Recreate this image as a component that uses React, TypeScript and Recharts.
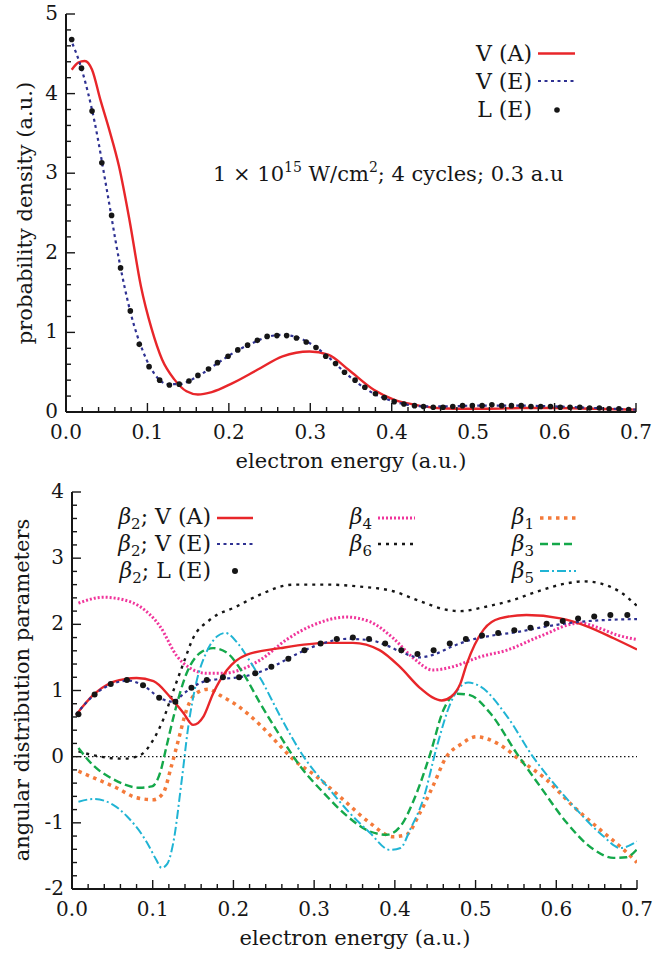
import React from "react";
import { LineChart, Line, XAxis, YAxis, ReferenceLine } from "recharts";

// ---------- Top panel: probability density ----------
const topVAx = [0.007,0.015,0.023,0.032,0.042,0.053,0.065,0.078,0.092,0.105,0.118,0.133,0.148,0.162,0.179,0.204,0.235,0.266,0.299,0.322,0.347,0.378,0.404,0.429,0.455,0.48,0.52,0.56,0.6,0.65,0.7];
const topVAy = [4.30,4.39,4.41,4.30,3.93,3.55,3.09,2.41,1.58,1.05,0.66,0.41,0.26,0.22,0.25,0.36,0.53,0.70,0.76,0.72,0.53,0.28,0.15,0.09,0.05,0.04,0.04,0.05,0.05,0.04,0.03];

const topVEx = [0.005,0.02,0.035,0.05,0.065,0.08,0.095,0.11,0.125,0.14,0.155,0.17,0.19,0.21,0.23,0.25,0.265,0.28,0.30,0.32,0.34,0.36,0.38,0.40,0.42,0.44,0.47,0.50,0.55,0.60,0.65,0.70];
const topVEy = [4.70,4.28,3.65,2.80,1.92,1.22,0.75,0.46,0.35,0.35,0.41,0.50,0.64,0.77,0.87,0.95,0.97,0.95,0.86,0.71,0.52,0.35,0.22,0.14,0.09,0.07,0.07,0.08,0.08,0.07,0.05,0.03];

const topLEx = [0.007,0.019,0.032,0.044,0.056,0.067,0.079,0.090,0.102,0.115,0.127,0.139,0.151,0.162,0.175,0.186,0.199,0.211,0.223,0.235,0.247,0.259,0.271,0.283,0.295,0.307,0.319,0.331,0.342,0.355,0.367,0.380,0.391,0.403,0.415,0.428,0.439,0.451,0.463,0.475,0.487,0.499,0.511,0.523,0.535,0.547,0.559,0.571,0.583,0.595,0.607,0.619,0.631,0.643,0.655,0.667,0.679,0.691];
const topLEy = [4.68,4.32,3.78,3.13,2.47,1.81,1.27,0.85,0.57,0.40,0.34,0.35,0.39,0.46,0.54,0.62,0.70,0.78,0.84,0.90,0.95,0.96,0.96,0.93,0.88,0.81,0.70,0.61,0.50,0.40,0.31,0.23,0.18,0.13,0.10,0.08,0.07,0.06,0.06,0.07,0.08,0.08,0.08,0.09,0.08,0.08,0.08,0.07,0.07,0.07,0.06,0.06,0.06,0.05,0.05,0.04,0.04,0.03];

// ---------- Bottom panel: angular distribution parameters ----------
const b2VAx = [0.005,0.027,0.047,0.065,0.080,0.101,0.121,0.138,0.150,0.163,0.175,0.192,0.216,0.258,0.316,0.348,0.381,0.406,0.431,0.446,0.458,0.470,0.481,0.489,0.510,0.530,0.563,0.605,0.638,0.671,0.700];
const b2VAy = [0.63,0.94,1.11,1.17,1.19,1.14,0.91,0.66,0.48,0.61,0.96,1.31,1.54,1.64,1.72,1.72,1.61,1.36,1.04,0.90,0.85,0.91,1.10,1.40,1.92,2.09,2.14,2.09,1.97,1.79,1.62];

const b2VEx = [0.005,0.03,0.05,0.07,0.09,0.11,0.125,0.14,0.16,0.18,0.2,0.22,0.25,0.28,0.31,0.34,0.37,0.39,0.41,0.43,0.45,0.47,0.49,0.52,0.55,0.58,0.61,0.64,0.67,0.7];
const b2VEy = [0.64,0.96,1.10,1.15,1.06,0.88,0.83,0.97,1.12,1.17,1.19,1.23,1.37,1.56,1.71,1.78,1.76,1.68,1.57,1.50,1.55,1.66,1.75,1.83,1.88,1.95,2.01,2.05,2.07,2.08];

const b2LEx = [0.008,0.028,0.048,0.068,0.088,0.108,0.128,0.148,0.167,0.187,0.207,0.227,0.247,0.268,0.288,0.308,0.328,0.348,0.368,0.388,0.408,0.428,0.448,0.468,0.488,0.508,0.528,0.548,0.568,0.588,0.608,0.627,0.647,0.667,0.688];
const b2LEy = [0.64,0.94,1.10,1.16,1.08,0.89,0.83,1.04,1.16,1.20,1.20,1.26,1.36,1.48,1.61,1.71,1.78,1.80,1.78,1.71,1.61,1.55,1.61,1.71,1.78,1.83,1.87,1.91,1.95,2.01,2.05,2.09,2.12,2.14,2.14];

const b4x = [0.008,0.039,0.064,0.084,0.109,0.130,0.146,0.167,0.187,0.208,0.233,0.266,0.299,0.340,0.369,0.398,0.423,0.447,0.472,0.506,0.539,0.580,0.629,0.654,0.675,0.700];
const b4y = [2.32,2.41,2.37,2.27,1.97,1.52,1.34,1.26,1.26,1.31,1.46,1.77,1.99,2.11,2.04,1.79,1.49,1.31,1.36,1.51,1.61,1.82,2.02,1.94,1.84,1.77];

const b6x = [0.008,0.035,0.064,0.084,0.101,0.113,0.126,0.138,0.150,0.171,0.204,0.233,0.274,0.316,0.357,0.398,0.431,0.464,0.481,0.514,0.547,0.580,0.613,0.634,0.654,0.679,0.700];
const b6y = [0.08,0.0,-0.03,0.02,0.26,0.56,1.01,1.41,1.79,2.07,2.27,2.45,2.60,2.60,2.57,2.50,2.35,2.22,2.20,2.27,2.37,2.51,2.62,2.65,2.62,2.49,2.28];

const b1x = [0.008,0.027,0.055,0.080,0.101,0.113,0.123,0.132,0.142,0.154,0.169,0.183,0.204,0.233,0.258,0.274,0.303,0.336,0.369,0.398,0.414,0.431,0.447,0.464,0.481,0.501,0.530,0.555,0.588,0.621,0.654,0.683,0.700];
const b1y = [-0.22,-0.32,-0.47,-0.62,-0.65,-0.55,-0.15,0.26,0.71,0.96,1.02,0.93,0.78,0.48,0.16,-0.04,-0.30,-0.65,-1.0,-1.21,-1.18,-0.85,-0.45,0.0,0.18,0.30,0.18,-0.05,-0.35,-0.75,-1.1,-1.4,-1.6];

const b3x = [0.008,0.027,0.051,0.084,0.099,0.109,0.117,0.127,0.142,0.159,0.175,0.192,0.212,0.233,0.258,0.283,0.312,0.341,0.369,0.390,0.407,0.427,0.444,0.460,0.477,0.493,0.518,0.551,0.580,0.613,0.646,0.671,0.687,0.700];
const b3y = [0.13,-0.14,-0.34,-0.47,-0.45,-0.25,0.15,0.66,1.26,1.57,1.64,1.57,1.26,0.81,0.31,-0.15,-0.55,-0.90,-1.13,-1.18,-1.05,-0.55,0.05,0.70,0.95,0.93,0.66,0.05,-0.45,-1.0,-1.4,-1.53,-1.52,-1.4];

const b5x = [0.008,0.027,0.050,0.068,0.093,0.104,0.111,0.118,0.1255,0.136,0.144,0.154,0.167,0.180,0.190,0.205,0.220,0.235,0.258,0.287,0.316,0.344,0.369,0.394,0.407,0.419,0.435,0.452,0.469,0.491,0.506,0.539,0.571,0.600,0.629,0.658,0.679,0.700];
const b5y = [-0.68,-0.64,-0.72,-0.90,-1.30,-1.55,-1.68,-1.62,-1.30,-0.35,0.45,1.12,1.59,1.82,1.87,1.72,1.45,1.15,0.61,0.0,-0.45,-0.85,-1.15,-1.41,-1.38,-1.10,-0.65,0.15,0.81,1.12,1.06,0.61,0.0,-0.45,-0.85,-1.2,-1.38,-1.28];

// ---------- Tick labels ----------
const xMajorTicks = [0, 0.1, 0.2, 0.3, 0.4, 0.5, 0.6, 0.7];
const topYMajorTicks = [0, 1, 2, 3, 4, 5];
const botYMajorTicks = [-2, -1, 0, 1, 2, 3, 4];

const FONT = "DejaVu Serif";
const INK = "#161616";

const xMinor = Array.from({ length: 36 }, (_, i) => +(i * 0.02).toFixed(3));
const topYMinor = Array.from({ length: 26 }, (_, i) => +(i * 0.2).toFixed(3));
const botYMinor = Array.from({ length: 31 }, (_, i) => +(-2 + i * 0.2).toFixed(3));

const pts = (xs: number[], ys: number[]) => xs.map((x, i) => ({ x, y: ys[i] }));
const near = (v: number, list: number[]) => list.some((t) => Math.abs(t - v) < 1e-6);

const MAJ = 9;
const MIN = 5;

const BottomTick = (props: any) => {
  const { x, y, payload } = props;
  const major = near(payload.value, xMajorTicks);
  return (
    <g>
      <line x1={x} x2={x} y1={y} y2={y - (major ? MAJ : MIN)} stroke={INK} strokeWidth={1.4} />
      {major && (
        <text x={x} y={y + 27} textAnchor="middle" fontFamily={FONT} fontSize={20} fill={INK}>
          {payload.value.toFixed(1)}
        </text>
      )}
    </g>
  );
};
const TopTick = (props: any) => {
  const { x, y, payload } = props;
  const major = near(payload.value, xMajorTicks);
  return <line x1={x} x2={x} y1={y} y2={y + (major ? MAJ : MIN)} stroke={INK} strokeWidth={1.4} />;
};
const makeLeftTick = (majors: number[]) => (props: any) => {
  const { x, y, payload } = props;
  const major = near(payload.value, majors);
  return (
    <g>
      <line x1={x} x2={x + (major ? MAJ : MIN)} y1={y} y2={y} stroke={INK} strokeWidth={1.4} />
      {major && (
        <text x={x - 8} y={y + 6} textAnchor="end" fontFamily={FONT} fontSize={20} fill={INK}>
          {String(payload.value)}
        </text>
      )}
    </g>
  );
};
const makeRightTick = (majors: number[]) => (props: any) => {
  const { x, y, payload } = props;
  const major = near(payload.value, majors);
  return <line x1={x} x2={x - (major ? MAJ : MIN)} y1={y} y2={y} stroke={INK} strokeWidth={1.4} />;
};

const axisLine = { stroke: INK, strokeWidth: 2 };

const C = {
  red: "#e8262a",
  blue: "#2e3192",
  magenta: "#f0359b",
  black: "#161616",
  orange: "#f47a3a",
  green: "#14a84a",
  cyan: "#20b4d4",
};

const S = {
  va: { stroke: C.red, strokeWidth: 2.4 },
  ve: { stroke: C.blue, strokeWidth: 2.2, strokeDasharray: "3 3.5" },
  b4: { stroke: C.magenta, strokeWidth: 3, strokeDasharray: "2 2" },
  b6: { stroke: C.black, strokeWidth: 2.4, strokeDasharray: "3 5" },
  b1: { stroke: C.orange, strokeWidth: 3.5, strokeDasharray: "3.5 4.5" },
  b3: { stroke: C.green, strokeWidth: 2.4, strokeDasharray: "8 4" },
  b5: { stroke: C.cyan, strokeWidth: 2, strokeDasharray: "9 3 2 3" },
};

function TopChart() {
  return (
    <LineChart width={653} height={450} margin={{ top: 14, right: 17, bottom: 8, left: 8 }}>
      <XAxis dataKey="x" type="number" domain={[0, 0.7]} ticks={xMinor} interval={0} tickSize={0} tickMargin={0}
        tick={<BottomTick />} axisLine={axisLine} tickLine={false} height={30} allowDataOverflow />
      <XAxis xAxisId="t" orientation="top" dataKey="x" type="number" domain={[0, 0.7]} ticks={xMinor} interval={0}
        tickSize={0} tickMargin={0} tick={<TopTick />} axisLine={axisLine} tickLine={false} height={0} allowDataOverflow />
      <YAxis type="number" domain={[0, 5]} ticks={topYMinor} interval={0} tickSize={0} tickMargin={0}
        tick={makeLeftTick(topYMajorTicks)} axisLine={axisLine} tickLine={false} width={58} allowDataOverflow />
      <YAxis yAxisId="r" orientation="right" type="number" domain={[0, 5]} ticks={topYMinor} interval={0} tickSize={0}
        tickMargin={0} tick={makeRightTick(topYMajorTicks)} axisLine={axisLine} tickLine={false} width={0} allowDataOverflow />
      <Line data={pts(topVAx, topVAy)} dataKey="y" type="monotone" {...S.va} dot={false} activeDot={false} isAnimationActive={false} />
      <Line data={pts(topVEx, topVEy)} dataKey="y" type="monotone" {...S.ve} dot={false} activeDot={false} isAnimationActive={false} />
      <Line data={pts(topLEx, topLEy)} dataKey="y" stroke="none" strokeWidth={0}
        dot={{ r: 2.8, fill: INK, stroke: "none" }} activeDot={false} isAnimationActive={false} />
    </LineChart>
  );
}

function BottomChart() {
  return (
    <LineChart width={653} height={484} margin={{ top: 22, right: 16, bottom: 35, left: 14 }}>
      <XAxis dataKey="x" type="number" domain={[0, 0.7]} ticks={xMinor} interval={0} tickSize={0} tickMargin={0}
        tick={<BottomTick />} axisLine={axisLine} tickLine={false} height={30} allowDataOverflow />
      <XAxis xAxisId="t" orientation="top" dataKey="x" type="number" domain={[0, 0.7]} ticks={xMinor} interval={0}
        tickSize={0} tickMargin={0} tick={<TopTick />} axisLine={axisLine} tickLine={false} height={0} allowDataOverflow />
      <YAxis type="number" domain={[-2, 4]} ticks={botYMinor} interval={0} tickSize={0} tickMargin={0}
        tick={makeLeftTick(botYMajorTicks)} axisLine={axisLine} tickLine={false} width={58} allowDataOverflow />
      <YAxis yAxisId="r" orientation="right" type="number" domain={[-2, 4]} ticks={botYMinor} interval={0} tickSize={0}
        tickMargin={0} tick={makeRightTick(botYMajorTicks)} axisLine={axisLine} tickLine={false} width={0} allowDataOverflow />
      <ReferenceLine y={0} stroke={INK} strokeWidth={1.2} strokeDasharray="1.5 2.5" />
      <Line data={pts(b4x, b4y)} dataKey="y" type="monotone" {...S.b4} dot={false} activeDot={false} isAnimationActive={false} />
      <Line data={pts(b6x, b6y)} dataKey="y" type="monotone" {...S.b6} dot={false} activeDot={false} isAnimationActive={false} />
      <Line data={pts(b1x, b1y)} dataKey="y" type="monotone" {...S.b1} dot={false} activeDot={false} isAnimationActive={false} />
      <Line data={pts(b3x, b3y)} dataKey="y" type="monotone" {...S.b3} dot={false} activeDot={false} isAnimationActive={false} />
      <Line data={pts(b5x, b5y)} dataKey="y" type="monotone" {...S.b5} dot={false} activeDot={false} isAnimationActive={false} />
      <Line data={pts(b2VAx, b2VAy)} dataKey="y" type="monotone" {...S.va} dot={false} activeDot={false} isAnimationActive={false} />
      <Line data={pts(b2VEx, b2VEy)} dataKey="y" type="monotone" {...S.ve} dot={false} activeDot={false} isAnimationActive={false} />
      <Line data={pts(b2LEx, b2LEy)} dataKey="y" stroke="none" strokeWidth={0}
        dot={{ r: 3, fill: INK, stroke: "none" }} activeDot={false} isAnimationActive={false} />
    </LineChart>
  );
}

const T = (p: any) => <text fontFamily={FONT} fill={INK} {...p} />;
const Beta = ({ n }: { n: string }) => (
  <>
    <tspan fontStyle="italic">β</tspan>
    <tspan fontSize={15} dy={5}>{n}</tspan>
  </>
);

function Overlay() {
  return (
    <svg width={653} height={954} style={{ position: "absolute", left: 0, top: 0, pointerEvents: "none" }}>
      {/* axis titles */}
      <T x={351} y={468} fontSize={21} textAnchor="middle">electron energy (a.u.)</T>
      <T x={355} y={945} fontSize={21} textAnchor="middle">electron energy (a.u.)</T>
      <T x={0} y={0} fontSize={21} textAnchor="middle" transform="translate(32,213) rotate(-90)">probability density (a.u.)</T>
      <T x={0} y={0} fontSize={21} textAnchor="middle" transform="translate(29,690) rotate(-90)">angular distribution parameters</T>

      {/* top legend */}
      <T x={532} y={61} fontSize={22} textAnchor="end">V (A)</T>
      <line x1={538} x2={575} y1={53.5} y2={53.5} {...S.va} />
      <T x={532} y={89} fontSize={22} textAnchor="end">V (E)</T>
      <line x1={538} x2={575} y1={81} y2={81} {...S.ve} />
      <T x={532} y={117} fontSize={22} textAnchor="end">L (E)</T>
      <circle cx={557} cy={110} r={2.8} fill={INK} />

      {/* annotation */}
      <T x={213} y={181} fontSize={21}>
        1 × 10<tspan fontSize={14} dy={-9}>15</tspan>
        <tspan dy={9}> W/cm</tspan>
        <tspan fontSize={14} dy={-9}>2</tspan>
        <tspan dy={9}>; 4 cycles; 0.3 a.u</tspan>
      </T>

      {/* bottom legend col 1 */}
      <T x={211} y={524} fontSize={22} textAnchor="end"><Beta n="2" /><tspan dy={-5}>; V (A)</tspan></T>
      <line x1={217} x2={253} y1={518} y2={518} {...S.va} />
      <T x={211} y={551} fontSize={22} textAnchor="end"><Beta n="2" /><tspan dy={-5}>; V (E)</tspan></T>
      <line x1={217} x2={253} y1={544} y2={544} {...S.ve} />
      <T x={211} y={578} fontSize={22} textAnchor="end"><Beta n="2" /><tspan dy={-5}>; L (E)</tspan></T>
      <circle cx={235} cy={571} r={3} fill={INK} />

      {/* col 2 */}
      <T x={372} y={524} fontSize={22} textAnchor="end"><Beta n="4" /></T>
      <line x1={378} x2={415} y1={518} y2={518} {...S.b4} />
      <T x={372} y={551} fontSize={22} textAnchor="end"><Beta n="6" /></T>
      <line x1={378} x2={415} y1={544} y2={544} {...S.b6} />

      {/* col 3 */}
      <T x={534} y={524} fontSize={22} textAnchor="end"><Beta n="1" /></T>
      <line x1={540} x2={576} y1={518} y2={518} {...S.b1} />
      <T x={534} y={551} fontSize={22} textAnchor="end"><Beta n="3" /></T>
      <line x1={540} x2={576} y1={544} y2={544} {...S.b3} />
      <T x={534} y={578} fontSize={22} textAnchor="end"><Beta n="5" /></T>
      <line x1={540} x2={576} y1={571} y2={571} {...S.b5} />
    </svg>
  );
}

export default function App() {
  return (
    <div style={{ position: "absolute", left: 0, top: 0, width: 653, height: 954, background: "#fff" }}>
      <div style={{ position: "absolute", left: 0, top: 0 }}>
        <TopChart />
      </div>
      <div style={{ position: "absolute", left: 0, top: 470 }}>
        <BottomChart />
      </div>
      <Overlay />
    </div>
  );
}
